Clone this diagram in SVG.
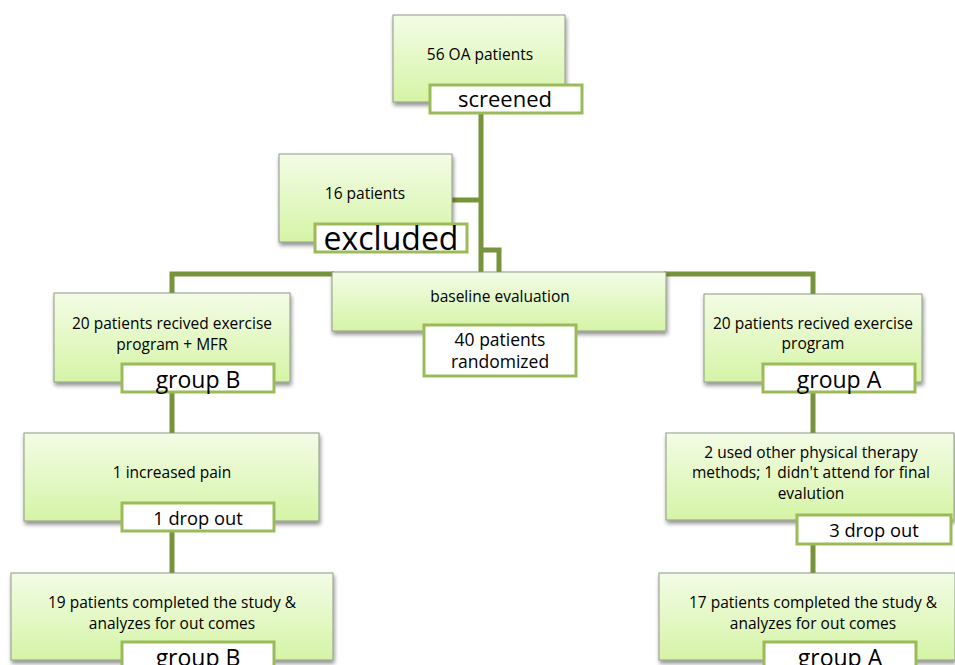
<svg xmlns="http://www.w3.org/2000/svg" width="955" height="665" viewBox="0 0 955 665">
<defs>
<linearGradient id="g" x1="0" y1="0" x2="0" y2="1">
<stop offset="0" stop-color="#f3fce6"/>
<stop offset="1" stop-color="#d5f4a6"/>
</linearGradient>
<filter id="sh" x="-10%" y="-10%" width="125%" height="135%">
<feGaussianBlur in="SourceAlpha" stdDeviation="2"/>
<feOffset dx="1" dy="3" result="b"/>
<feComponentTransfer><feFuncA type="linear" slope="0.45"/></feComponentTransfer>
<feMerge><feMergeNode/><feMergeNode in="SourceGraphic"/></feMerge>
</filter>
</defs>
<style>
.box{fill:url(#g);stroke:#8f9a86;stroke-width:1;filter:url(#sh)}
.lab{fill:#ffffff;stroke:#9bbb59;stroke-width:3}
.ln{fill:none;stroke:#77933c;stroke-width:5}
text{font-family:"Open Sans","Liberation Sans",sans-serif;fill:#000;text-anchor:middle}
.t{font-size:15.5px}
.d{font-size:18.3px}
.g{font-size:23px}
</style>
<g id="connectors">
<path class="ln" d="M481,112 V272"/>
<path class="ln" d="M452,200 H481"/>
<path class="ln" d="M481,250 H499 V272"/>
<path class="ln" d="M334,274 H172 V295"/>
<path class="ln" d="M664,274 H813 V296"/>
<path class="ln" d="M172,390 V435"/>
<path class="ln" d="M172,530 V575"/>
<path class="ln" d="M813,390 V435"/>
<path class="ln" d="M813,543 V575"/>
</g>
<g id="n1">
<rect class="box" x="393" y="15" width="172" height="87"/>
<text class="t" x="480" y="60">56 OA patients</text>
<rect class="lab" x="430" y="85" width="152" height="28"/>
<text x="505" y="107" style="font-size:22px">screened</text>
</g>
<g id="n2">
<rect class="box" x="279" y="154" width="173" height="88"/>
<text class="t" x="365" y="199">16 patients</text>
<rect class="lab" x="315" y="224" width="152" height="28"/>
<text x="391" y="250" style="font-size:32px">excluded</text>
</g>
<g id="n3">
<rect class="box" x="332" y="272" width="334" height="59"/>
<text class="t" x="500" y="302">baseline evaluation</text>
<rect class="lab" x="424" y="325" width="152" height="51"/>
<text x="500" y="346" style="font-size:17.5px">40 patients</text>
<text x="500" y="368" style="font-size:17.5px">randomized</text>
</g>
<g id="n4">
<rect class="box" x="54" y="293" width="236" height="89"/>
<text class="t" x="172" y="329">20 patients recived exercise</text>
<text class="t" x="172" y="350">program + MFR</text>
<rect class="lab" x="122" y="364" width="152" height="28"/>
<text class="g" x="198" y="388">group B</text>
</g>
<g id="n5">
<rect class="box" x="704" y="294" width="218" height="88"/>
<text class="t" x="813" y="329">20 patients recived exercise</text>
<text class="t" x="813" y="349">program</text>
<rect class="lab" x="763" y="364" width="152" height="28"/>
<text class="g" x="839" y="388">group A</text>
</g>
<g id="n6">
<rect class="box" x="24" y="433" width="295" height="88"/>
<text class="t" x="172" y="478">1 increased pain</text>
<rect class="lab" x="122" y="503" width="152" height="28"/>
<text class="d" x="198" y="525">1 drop out</text>
</g>
<g id="n7">
<rect class="box" x="666" y="433" width="288" height="87"/>
<text class="t" x="811" y="458">2 used other physical therapy</text>
<text class="t" x="811" y="478">methods; 1 didn't attend for final</text>
<text class="t" x="811" y="499">evalution</text>
<rect class="lab" x="797" y="515" width="154" height="29"/>
<text class="d" x="874" y="537">3 drop out</text>
</g>
<g id="n8">
<rect class="box" x="11" y="573" width="322" height="87"/>
<text class="t" x="172" y="608">19 patients completed the study &amp;</text>
<text class="t" x="172" y="629">analyzes for out comes</text>
<rect class="lab" x="122" y="642" width="152" height="28"/>
<text class="g" x="198" y="666">group B</text>
</g>
<g id="n9">
<rect class="box" x="659" y="573" width="296" height="87"/>
<text class="t" x="813" y="608">17 patients completed the study &amp;</text>
<text class="t" x="813" y="629">analyzes for out comes</text>
<rect class="lab" x="764" y="642" width="152" height="28"/>
<text class="g" x="840" y="666">group A</text>
</g>
</svg>
